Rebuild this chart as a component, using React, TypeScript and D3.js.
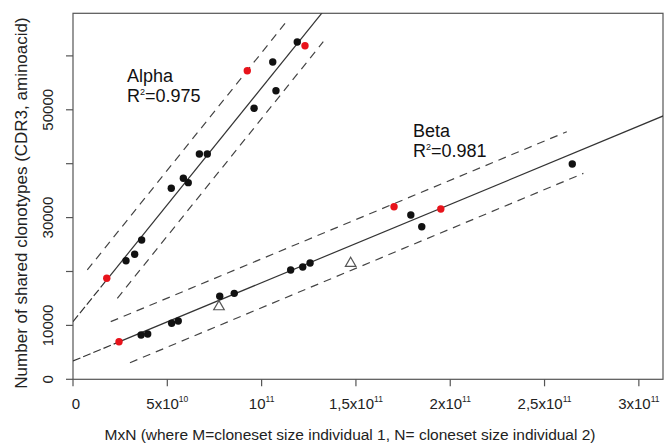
import React from "react"
import * as d3 from "d3"

// axis ticks
const xTicks = [0, 5e10, 1e11, 1.5e11, 2e11, 2.5e11, 3e11]
const xTickBase = ["0", "5x10", "10", "1,5x10", "2x10", "2,5x10", "3x10"]
const xTickSup = ["", "10", "11", "11", "11", "11", "11"]
const yTicks = [0, 10000, 20000, 30000, 40000, 50000, 60000]
const yTickLabels = ["0", "10000", "", "30000", "", "50000", ""]

// alpha chain: r = red, b = black
const alphaX = [1.79e10, 2.81e10, 3.27e10, 3.64e10, 5.21e10, 5.85e10, 6.11e10, 6.7e10, 7.12e10, 9.6e10, 9.24e10, 10.59e10, 10.76e10, 11.89e10, 12.3e10]
const alphaY = [18740, 22000, 23190, 25840, 35440, 37290, 36480, 41800, 41800, 50280, 57250, 58870, 53540, 62580, 61890]
const alphaKind = ["r", "b", "b", "b", "b", "b", "b", "b", "b", "b", "r", "b", "b", "b", "r"]

// beta chain: t = open triangle
const betaX = [2.44e10, 3.61e10, 3.96e10, 5.23e10, 5.58e10, 7.78e10, 7.74e10, 8.55e10, 11.54e10, 12.18e10, 12.57e10, 14.72e10, 17.02e10, 17.91e10, 19.5e10, 18.49e10, 26.47e10]
const betaY = [6975, 8220, 8400, 10390, 10820, 15400, 13470, 15950, 20280, 20830, 21570, 21520, 32020, 30480, 31590, 28310, 39940]
const betaKind = ["r", "b", "b", "b", "b", "b", "t", "b", "b", "b", "b", "t", "r", "b", "r", "b", "b"]

// regression fits
const alphaIntercept = 10690
const alphaSlope = 4.339e-7
const betaIntercept = 3395
const betaSlope = 1.453e-7

// prediction bands (end points)
const alphaUpper: [number, number][] = [[0.758e10, 20280], [11.36e10, 66530]]
const alphaLower: [number, number][] = [[2.35e10, 15030], [13.27e10, 62630]]
const betaUpper: [number, number][] = [[2.0e10, 10690], [26.18e10, 45930]]
const betaLower: [number, number][] = [[3.02e10, 3080], [27.06e10, 38210]]

const W = 664
const H = 444
const left = 73
const right = 663
const top = 13.3
const bottom = 379.3

const FONT = "'Liberation Sans', Arial, Helvetica, sans-serif"
const RED = "#e8131b"

export default function App() {
  const x = d3.scaleLinear().domain([0, 3.128e11]).range([left, right])
  const y = d3.scaleLinear().domain([0, 67900]).range([bottom, top])
  const line = d3.line<[number, number]>().x(d => x(d[0])).y(d => y(d[1]))

  const fit = (b: number, m: number, x0: number, x1: number): [number, number][] =>
    [[x0, b + m * x0], [x1, b + m * x1]]

  const marker = (px: number, py: number, kind: string, key: string) => {
    const cx = x(px)
    const cy = y(py)
    if (kind === "t") {
      const tri = d3.symbol().type(d3.symbolTriangle).size(48)()
      return <path key={key} d={tri || ""} transform={`translate(${cx},${cy})`}
        fill="white" stroke="#555" strokeWidth={1.2} />
    }
    return <circle key={key} cx={cx} cy={cy} r={3.7} fill={kind === "r" ? RED : "#111"} />
  }

  return (
    <svg width={W} height={H} style={{ position: "absolute", left: 0, top: 0, background: "white" }}
      fontFamily={FONT}>
      <defs>
        <clipPath id="plot">
          <rect x={left} y={top} width={right - left} height={bottom - top} />
        </clipPath>
      </defs>

      {/* box */}
      <rect x={left} y={top} width={right - left} height={bottom - top} fill="none" stroke="#555" strokeWidth={1.2} />

      {/* x axis */}
      {xTicks.map((t, i) => (
        <g key={"xt" + i}>
          <line x1={x(t)} x2={x(t)} y1={bottom} y2={bottom + 7} stroke="#555" strokeWidth={1.2} />
          <text x={x(t) + (i === 0 ? 3 : 0)} y={408.5} textAnchor="middle" fontSize={15} fill="#222">
            {xTickBase[i]}
            {xTickSup[i] && <tspan fontSize={8.5} dy={-7}>{xTickSup[i]}</tspan>}
          </text>
        </g>
      ))}

      {/* y axis */}
      {yTicks.map((t, i) => (
        <g key={"yt" + i}>
          <line x1={left - 7} x2={left} y1={y(t)} y2={y(t)} stroke="#555" strokeWidth={1.2} />
          {yTickLabels[i] && (
            <text transform={`translate(${53},${y(t)}) rotate(-90)`} textAnchor="middle" fontSize={15} fill="#222">
              {yTickLabels[i]}
            </text>
          )}
        </g>
      ))}

      <text x={350} y={440} textAnchor="middle" fontSize={15.5} fill="#222">
        MxN (where M=cloneset size individual 1, N= cloneset size individual 2)
      </text>
      <text transform={`translate(27,203) rotate(-90)`} textAnchor="middle" fontSize={17} fill="#222">
        Number of shared clonotypes (CDR3, aminoacid)
      </text>

      <g clipPath="url(#plot)" fill="none" stroke="#333" strokeWidth={1.2}>
        {/* prediction bands */}
        {[alphaUpper, alphaLower, betaUpper, betaLower].map((d, i) => (
          <path key={"band" + i} d={line(d) || ""} stroke="#444" strokeDasharray="8,6" />
        ))}
        {/* fit lines: dashed extension to the origin, solid over the data */}
        <path d={line(fit(alphaIntercept, alphaSlope, 0, alphaX[0])) || ""} strokeDasharray="8,3" />
        <path d={line(fit(alphaIntercept, alphaSlope, alphaX[0], 1.4e11)) || ""} />
        <path d={line(fit(betaIntercept, betaSlope, 0, betaX[0])) || ""} strokeDasharray="8,3" />
        <path d={line(fit(betaIntercept, betaSlope, betaX[0], 3.2e11)) || ""} />
      </g>

      {alphaX.map((v, i) => marker(v, alphaY[i], alphaKind[i], "a" + i))}
      {betaX.map((v, i) => marker(v, betaY[i], betaKind[i], "b" + i))}

      <text x={127} y={82} fontSize={18} fill="#111">Alpha</text>
      <text x={127} y={102} fontSize={18} fill="#111">
        R<tspan fontSize={9} dy={-7}>2</tspan><tspan dy={7}>=0.975</tspan>
      </text>
      <text x={413} y={136.5} fontSize={18} fill="#111">Beta</text>
      <text x={413} y={156.5} fontSize={18} fill="#111">
        R<tspan fontSize={9} dy={-7}>2</tspan><tspan dy={7}>=0.981</tspan>
      </text>
    </svg>
  )
}
